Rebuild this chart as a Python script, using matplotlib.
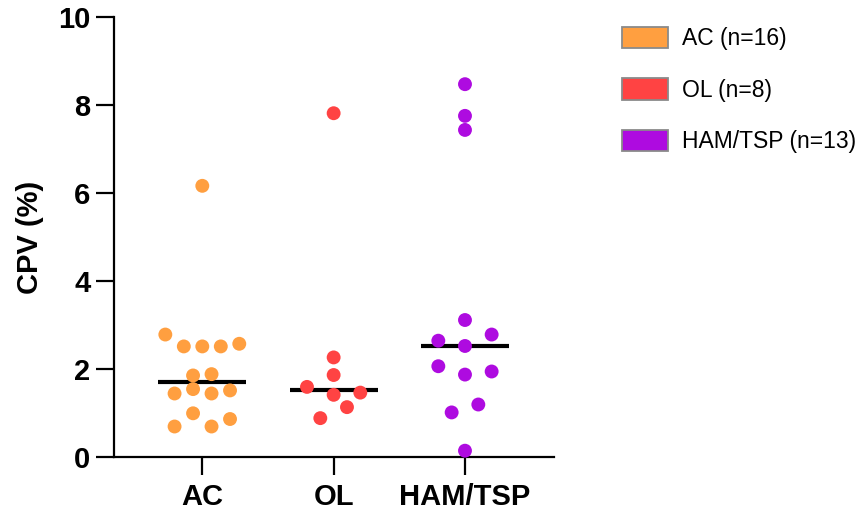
import numpy as np
import matplotlib
matplotlib.use("Agg")
import matplotlib.pyplot as plt
from matplotlib.patches import Patch

# ---------------- data ----------------
categories = ["AC", "OL", "HAM/TSP"]
legend_labels = ["AC (n=16)", "OL (n=8)", "HAM/TSP (n=13)"]
colors = ["#FF9F40", "#FF4343", "#AE0BE0"]

ac_values = [6.17, 2.79, 2.52, 2.52, 2.52, 2.58, 1.86, 1.89,
             1.45, 1.55, 1.45, 1.52, 0.70, 1.00, 0.70, 0.87]
ol_values = [7.82, 2.27, 1.87, 1.60, 1.42, 1.47, 0.89, 1.14]
ham_values = [8.48, 7.76, 7.44, 3.12, 2.65, 2.53, 2.79, 2.07,
              1.88, 1.95, 1.02, 1.20, 0.15]
y_ticks = [0, 2, 4, 6, 8, 10]
y_label = "CPV (%)"

groups = [ac_values, ol_values, ham_values]

plt.rcParams["font.family"] = ["Liberation Sans", "DejaVu Sans"]


def row_offsets(values, row_tol=0.31, max_step=0.203, max_width=0.563):
    """Simple column-scatter layout: close values share a row, rows are
    spread symmetrically around the category centre (in data order)."""
    vals = np.asarray(values, float)
    order = np.argsort(vals, kind="stable")
    rows = []
    for i in order:
        if rows and vals[i] - vals[rows[-1][0]] < row_tol:
            rows[-1].append(i)
        else:
            rows.append([i])
    kmax = max(len(r) for r in rows)
    step = max_step if kmax < 2 else min(max_step, max_width / (kmax - 1))
    off = np.zeros(len(vals))
    for r in rows:
        r = sorted(r)
        k = len(r)
        for j, i in enumerate(r):
            off[i] = (j - (k - 1) / 2) * step
    return off


W, H = 863, 515
fig = plt.figure(figsize=(W / 100, H / 100), dpi=100)
ax_left, ax_right = 114.3 / W, 554.3 / W
ax_bottom, ax_top = (H - 457.3) / H, (H - 17.3) / H
ax = fig.add_axes([ax_left, ax_bottom, ax_right - ax_left, ax_top - ax_bottom])

xpos = np.arange(len(categories))
for x, vals, c in zip(xpos, groups, colors):
    offs = row_offsets(vals)
    ax.hlines(np.median(vals), x - 0.335, x + 0.335, color="black",
              lw=3.0, zorder=2)
    ax.scatter(x + offs, vals, s=100, color=c, edgecolors="none",
               zorder=3, clip_on=False)

ax.set_xlim(-0.67, 2.68)
ax.set_ylim(0, 10)
ax.set_yticks(y_ticks)
ax.set_yticklabels([str(t) for t in y_ticks])
ax.set_xticks(xpos)
ax.set_xticklabels(categories)

for side in ["top", "right"]:
    ax.spines[side].set_visible(False)
for side in ["left", "bottom"]:
    ax.spines[side].set_linewidth(1.6)
    ax.spines[side].set_capstyle("projecting")

ax.tick_params(axis="both", which="major", length=12.7, width=1.6,
               color="black", labelsize=21, direction="out")
ax.tick_params(axis="y", pad=4.5)
ax.tick_params(axis="x", pad=6)
for lab in ax.get_xticklabels() + ax.get_yticklabels():
    lab.set_fontweight("bold")

ax.set_ylabel(y_label, fontsize=21, fontweight="bold")
ax.yaxis.set_label_coords((44 - 114.3) / 440, 0.5)

handles = [Patch(facecolor=c, edgecolor="#8a8a8a", linewidth=1.3, label=l)
           for c, l in zip(colors, legend_labels)]
fs = 16.5
fs_px = fs * 100 / 72
ax.legend(handles=handles, loc="upper left",
          bbox_to_anchor=(621.7 / W, 1 - 27.0 / H),
          bbox_transform=fig.transFigure, frameon=False, fontsize=fs,
          handlelength=46 / fs_px, handleheight=24 / fs_px,
          handletextpad=14 / fs_px, labelspacing=1.22,
          borderpad=0, borderaxespad=0)

fig.savefig("out.png", dpi=100)
